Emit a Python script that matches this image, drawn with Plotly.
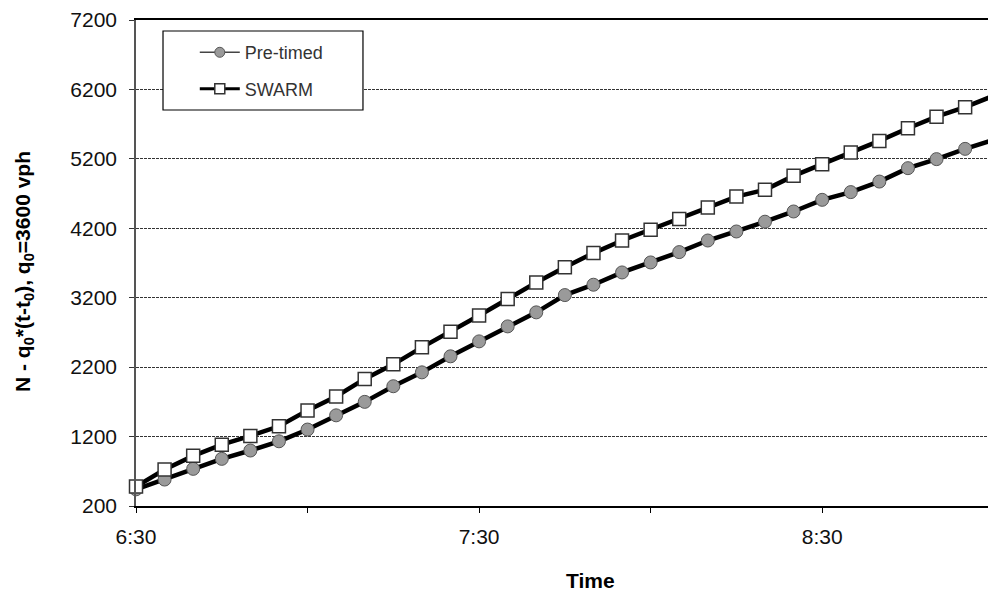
import plotly.graph_objects as go

# Time stamps (every 5 minutes from 6:30 to 9:00)
time_labels = ["6:30", "6:35", "6:40", "6:45", "6:50", "6:55",
               "7:00", "7:05", "7:10", "7:15", "7:20", "7:25",
               "7:30", "7:35", "7:40", "7:45", "7:50", "7:55",
               "8:00", "8:05", "8:10", "8:15", "8:20", "8:25",
               "8:30", "8:35", "8:40", "8:45", "8:50", "8:55", "9:00"]

pre_timed = [440, 581, 735, 879, 999, 1132, 1301, 1506, 1700, 1925,
             2125, 2356, 2571, 2787, 2989, 3238, 3387, 3564, 3708, 3857,
             4024, 4154, 4295, 4442, 4610, 4721, 4873, 5066, 5196, 5344, 5474]

swarm = [480, 725, 922, 1083, 1209, 1348, 1577, 1778, 2030, 2240,
         2485, 2710, 2943, 3181, 3420, 3640, 3843, 4024, 4178, 4332,
         4499, 4657, 4755, 4955, 5124, 5290, 5459, 5641, 5808, 5944, 6110]

x_tick_vals_labels = ["6:30", "7:00", "7:30", "8:00", "8:30"]
x_tick_text = ["6:30", "", "7:30", "", "8:30"]
y_ticks = [200, 1200, 2200, 3200, 4200, 5200, 6200, 7200]


def to_min(s):
    h, m = s.split(":")
    return (int(h) - 6) * 60 + int(m) - 30


x = [to_min(t) for t in time_labels]
x_ticks = [to_min(t) for t in x_tick_vals_labels]

FONT = "Liberation Sans, Arial, sans-serif"

fig = go.Figure()

# chart traces
fig.add_trace(go.Scatter(
    x=x, y=pre_timed, mode="lines+markers", name="Pre-timed", showlegend=False,
    line=dict(color="black", width=4.5),
    marker=dict(symbol="circle", size=13, color="#9a9a9a",
                line=dict(color="#555555", width=1)),
    cliponaxis=False))
fig.add_trace(go.Scatter(
    x=x, y=swarm, mode="lines+markers", name="SWARM", showlegend=False,
    line=dict(color="black", width=4.5),
    marker=dict(symbol="square", size=13, color="white",
                line=dict(color="#333333", width=1.5)),
    cliponaxis=False))

# legend entries
fig.add_trace(go.Scatter(
    x=[None], y=[None], mode="lines+markers", name="Pre-timed",
    legendgroup="a",
    line=dict(color="#444444", width=1.5),
    marker=dict(symbol="circle", size=10, color="#9a9a9a",
                line=dict(color="#555555", width=1))))
fig.add_trace(go.Scatter(
    x=[None], y=[None], mode="lines+markers", name="SWARM",
    legendgroup="b",
    line=dict(color="black", width=3),
    marker=dict(symbol="square", size=10, color="white",
                line=dict(color="#333333", width=1.5))))

# legend box
fig.add_shape(type="rect", xref="paper", yref="paper",
              x0=0.0317, x1=0.2664, y0=0.8148, y1=0.9774,
              line=dict(color="black", width=1.2), fillcolor="white",
              layer="above")

fig.update_layout(
    width=988, height=592,
    margin=dict(l=136, r=0, t=20, b=86),
    paper_bgcolor="white", plot_bgcolor="white",
    font=dict(family=FONT, color="black"),
    showlegend=True,
    legend=dict(x=0.069, y=0.971, xanchor="left", yanchor="top",
                bgcolor="rgba(0,0,0,0)", borderwidth=0,
                font=dict(size=18, color="#333333", family=FONT),
                tracegroupgap=10, itemwidth=40),
    xaxis=dict(range=[0, 149.0], tickmode="array", tickvals=x_ticks,
               ticktext=x_tick_text, ticks="outside", ticklen=5,
               tickcolor="black", tickwidth=1.2,
               showline=True, linecolor="black", linewidth=1.5, mirror=True,
               showgrid=False, zeroline=False, ticklabelstandoff=6,
               tickfont=dict(size=21, color="#111111")),
    yaxis=dict(range=[200, 7200], tickmode="array", tickvals=y_ticks,
               ticks="outside", ticklen=5, tickcolor="#333333",
               showline=True, linecolor="#555555", linewidth=1.5,
               showgrid=True, gridcolor="#333333", gridwidth=1,
               griddash="3px,1px", zeroline=False,
               ticklabelstandoff=8,
               tickfont=dict(size=21, color="#111111")),
    annotations=[
        dict(text="<b>Time</b>", xref="paper", yref="paper",
             x=0.534, y=-0.154, xanchor="center", yanchor="middle",
             showarrow=False, font=dict(size=21, color="black")),
        dict(text="<b>N - q<sub>0</sub>*(t-t<sub>0</sub>), q<sub>0</sub>=3600 vph</b>",
             xref="paper", yref="paper", x=-0.1315, y=0.4835,
             xanchor="center", yanchor="middle", textangle=-90,
             showarrow=False, font=dict(size=21, color="black")),
    ],
)

fig.write_html(
    "out.html",
    config={"displayModeBar": False},
    post_script="document.body.style.margin='0';document.body.style.overflow='hidden';",
)
